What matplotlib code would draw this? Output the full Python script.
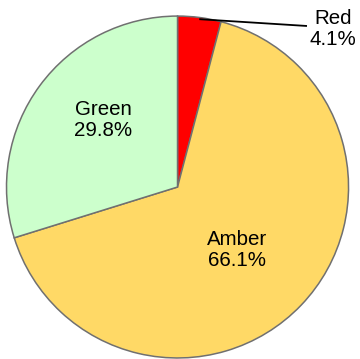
import numpy as np
import matplotlib
matplotlib.use("Agg")
import matplotlib.pyplot as plt

plt.rcParams['font.family'] = ['Liberation Sans', 'DejaVu Sans']

categories = ["Red", "Amber", "Green"]
shares = [4.1, 66.1, 29.8]
colors = ["#FF0000", "#FFD966", "#CCFFCC"]

fig = plt.figure(figsize=(3.60, 3.59), dpi=100)
ax = fig.add_axes([0, 0, 1, 1])

wedges, _ = ax.pie(shares, colors=colors, startangle=90, counterclock=False,
                   radius=1.0,
                   wedgeprops=dict(edgecolor="#707070", linewidth=1.1))

ax.set_xlim(-1.038, 1.067)
ax.set_ylim(-1.006, 1.094)
ax.set_aspect('auto')
ax.axis('off')

fs = 14.8
ls = 1.12
# Inside labels for the two large slices
inside_pos = {"Amber": (0.35, -0.37), "Green": (-0.435, 0.39)}
for w, name, val in zip(wedges, categories, shares):
    if name in inside_pos:
        x, y = inside_pos[name]
        ax.text(x, y, f"{name}\n{val:.1f}%", ha='center', va='center',
                fontsize=fs, linespacing=ls)

# Small slice gets an outside label with a leader line
red = wedges[0]
mid = np.deg2rad((red.theta1 + red.theta2) / 2)
start = (0.99 * np.cos(mid), 0.99 * np.sin(mid))
ax.plot([start[0], 0.757], [start[1], 0.942], color='black', lw=1.3,
        solid_capstyle='butt')
ax.text(0.91, 0.925, f"{categories[0]}\n{shares[0]:.1f}%", ha='center',
        va='center', fontsize=fs, linespacing=ls)

fig.savefig("out.png", dpi=100, facecolor='white')
